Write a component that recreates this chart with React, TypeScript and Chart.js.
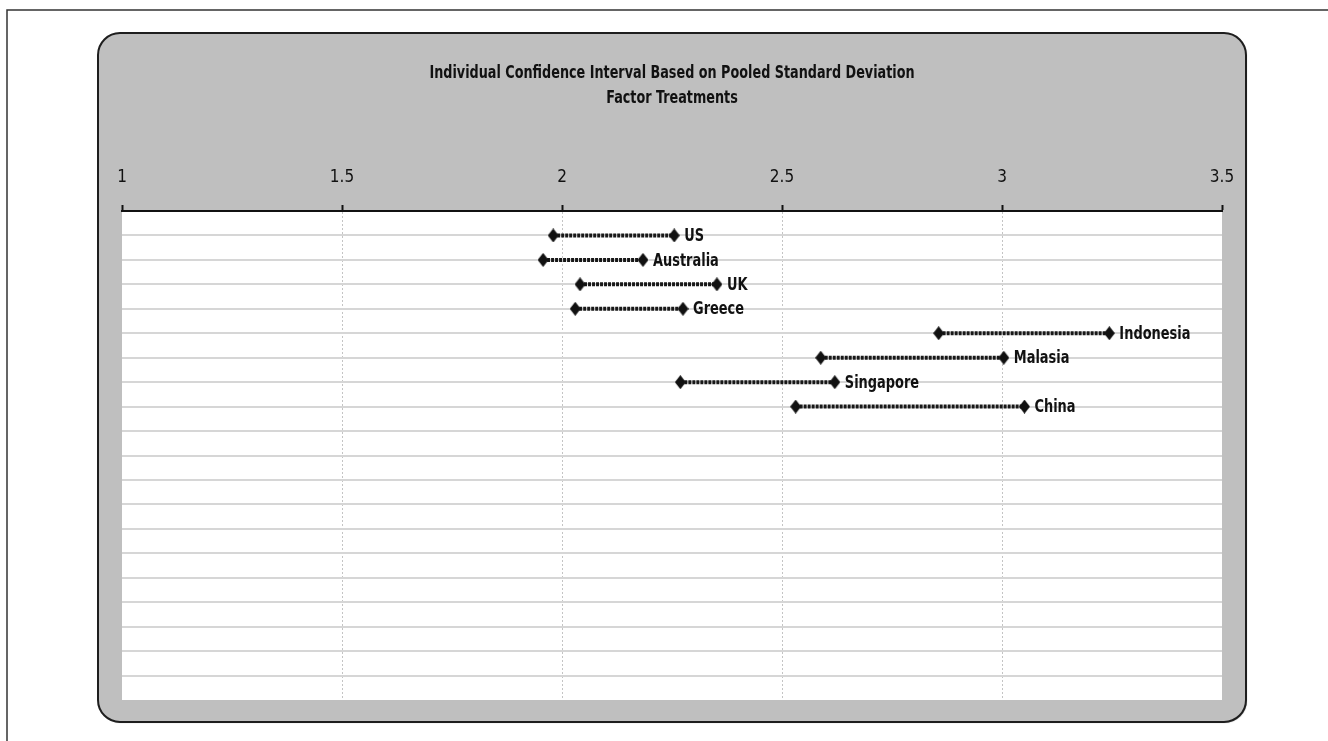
import React, { useEffect, useRef } from 'react';
import { Chart, registerables } from 'chart.js';

Chart.register(...registerables);

const countries = ['US', 'Australia', 'UK', 'Greece', 'Indonesia', 'Malasia', 'Singapore', 'China'];
const lowerBounds = [1.98, 1.957, 2.041, 2.03, 2.856, 2.588, 2.269, 2.531];
const upperBounds = [2.255, 2.184, 2.352, 2.275, 3.244, 3.004, 2.62, 3.051];
const xTicks = [1, 1.5, 2, 2.5, 3, 3.5];
const titleLines = ['Individual Confidence Interval Based on Pooled Standard Deviation', 'Factor Treatments'];
const rowCount = 20;

const FONT = '"Liberation Sans Narrow", "DejaVu Sans Condensed", "Arial Narrow", sans-serif';

function makeDiamond(): HTMLCanvasElement {
  const c = document.createElement('canvas');
  c.width = 11;
  c.height = 14;
  const g = c.getContext('2d')!;
  g.fillStyle = '#111';
  g.beginPath();
  g.moveTo(5.5, 0);
  g.lineTo(11, 7);
  g.lineTo(5.5, 14);
  g.lineTo(0, 7);
  g.closePath();
  g.fill();
  return c;
}

function squeezedText(ctx: CanvasRenderingContext2D, text: string, x: number, y: number, sx: number, align: 'left' | 'center') {
  ctx.save();
  ctx.translate(x, y);
  ctx.scale(sx, 1);
  ctx.textAlign = align;
  ctx.fillText(text, 0, 0);
  ctx.restore();
}

const panelPlugin = {
  id: 'panel',
  beforeDraw(chart: any) {
    const { ctx, chartArea } = chart;
    ctx.save();
    ctx.fillStyle = '#ffffff';
    ctx.fillRect(0, 0, chart.width, chart.height);
    // outer frame
    ctx.strokeStyle = '#333';
    ctx.lineWidth = 1.5;
    ctx.beginPath();
    ctx.moveTo(7, chart.height);
    ctx.lineTo(7, 10);
    ctx.lineTo(chart.width, 10);
    ctx.stroke();
    // rounded panel
    const x = 98, y = 33, w = 1148, h = 689, r = 22;
    ctx.beginPath();
    ctx.moveTo(x + r, y);
    ctx.lineTo(x + w - r, y);
    ctx.arcTo(x + w, y, x + w, y + r, r);
    ctx.lineTo(x + w, y + h - r);
    ctx.arcTo(x + w, y + h, x + w - r, y + h, r);
    ctx.lineTo(x + r, y + h);
    ctx.arcTo(x, y + h, x, y + h - r, r);
    ctx.lineTo(x, y + r);
    ctx.arcTo(x, y, x + r, y, r);
    ctx.closePath();
    ctx.shadowColor = 'rgba(0,0,0,0.35)';
    ctx.shadowOffsetX = 1;
    ctx.shadowOffsetY = 1;
    ctx.shadowBlur = 1;
    ctx.fillStyle = '#bfbfbf';
    ctx.fill();
    ctx.shadowColor = 'transparent';
    ctx.strokeStyle = '#1e1e1e';
    ctx.lineWidth = 2;
    ctx.stroke();
    // plot area
    ctx.fillStyle = '#ffffff';
    ctx.fillRect(chartArea.left, chartArea.top, chartArea.right - chartArea.left, chartArea.bottom - chartArea.top);
    // title
    ctx.fillStyle = '#111';
    ctx.font = `bold 18px ${FONT}`;
    ctx.textBaseline = 'middle';
    const cx = (x + x + w) / 2;
    squeezedText(ctx, titleLines[0], cx, 73, 0.79, 'center');
    squeezedText(ctx, titleLines[1], cx, 98, 0.79, 'center');
    ctx.restore();
  },
};

const labelPlugin = {
  id: 'endLabels',
  afterDatasetsDraw(chart: any) {
    const { ctx } = chart;
    ctx.save();
    ctx.font = `bold 18px ${FONT}`;
    ctx.fillStyle = '#111';
    ctx.textBaseline = 'middle';
    chart.data.datasets.forEach((ds: any, i: number) => {
      const meta = chart.getDatasetMeta(i);
      const pt = meta.data[1];
      if (pt) squeezedText(ctx, ds.label, pt.x + 10, pt.y + 1, 0.8, 'left');
    });
    ctx.restore();
  },
};

export default function App() {
  const ref = useRef<HTMLCanvasElement | null>(null);

  useEffect(() => {
    if (!ref.current) return;
    const diamond = makeDiamond();
    const chart = new Chart(ref.current, {
      type: 'line',
      data: {
        datasets: countries.map((name, i) => ({
          label: name,
          data: [
            { x: lowerBounds[i], y: i + 1 },
            { x: upperBounds[i], y: i + 1 },
          ],
          borderColor: '#181818',
          borderWidth: 4,
          borderDash: [3, 1],
          pointStyle: diamond as any,
          pointRadius: 6,
          fill: false,
        })),
      },
      options: {
        animation: false,
        responsive: false,
        events: [],
        layout: { padding: { left: 122, right: 106, top: 141, bottom: 41 } },
        plugins: {
          legend: { display: false },
          tooltip: { enabled: false },
          title: { display: false },
        },
        scales: {
          x: {
            type: 'linear',
            position: 'top',
            min: 1,
            max: 3.5,
            afterBuildTicks: (s: any) => {
              s.ticks = xTicks.map((v) => ({ value: v }));
            },
            afterFit: (s: any) => {
              s.height = 70;
            },
            ticks: {
              color: '#111',
              font: { family: FONT, size: 17 },
              padding: 17,
              maxRotation: 0,
              autoSkip: false,
              callback: (v: any) => String(v),
            },
            grid: {
              color: (c: any) =>
                c.tick && (c.tick.value === xTicks[0] || c.tick.value === xTicks[xTicks.length - 1])
                  ? 'rgba(0,0,0,0)'
                  : '#c4c4c4',
              lineWidth: 1,
              tickLength: 6,
              tickColor: '#111',
              tickWidth: 2,
            },
            border: { display: true, color: '#111', width: 2, dash: [2, 2] },
          },
          y: {
            type: 'linear',
            min: 0,
            max: rowCount,
            reverse: true,
            afterFit: (s: any) => {
              s.width = 0;
            },
            ticks: { display: false, stepSize: 1 },
            grid: {
              drawTicks: false,
              color: (c: any) =>
                c.tick && (c.tick.value === 0 || c.tick.value === rowCount) ? 'rgba(0,0,0,0)' : '#d6d6d6',
              lineWidth: 2,
            },
            border: { display: false },
          },
        },
      },
      plugins: [panelPlugin, labelPlugin],
    });
    return () => chart.destroy();
  }, []);

  return (
    <div style={{ position: 'fixed', left: 0, top: 0, width: 1328, height: 741 }}>
      <canvas ref={ref} width={1328} height={741} style={{ width: 1328, height: 741, display: 'block' }} />
    </div>
  );
}
